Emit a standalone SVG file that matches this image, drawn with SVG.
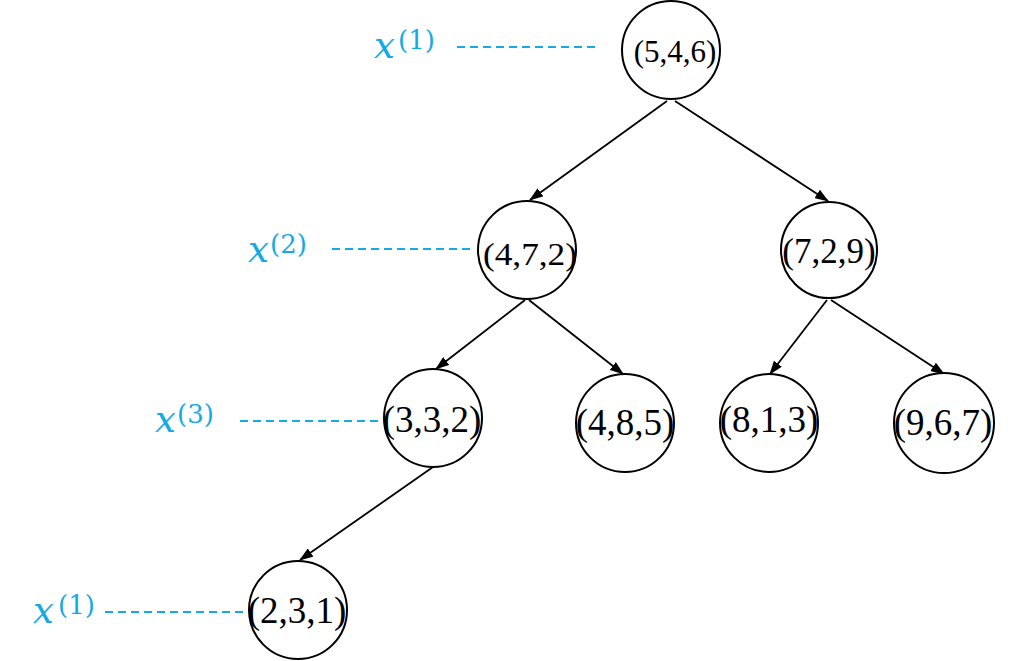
<svg xmlns="http://www.w3.org/2000/svg" width="1017" height="661" viewBox="0 0 1017 661">
<defs>
<marker id="arr" markerWidth="14" markerHeight="10" refX="13" refY="5" orient="auto" markerUnits="userSpaceOnUse">
<path d="M0,0 L14,5 L0,10 Z" fill="#000"/>
</marker>
<style>
.node circle{fill:#fff;stroke:#000;stroke-width:2}
.node text{font-family:"Liberation Serif","Times New Roman",serif;fill:#000;text-anchor:middle}
.edge{stroke:#000;stroke-width:1.8;fill:none;marker-end:url(#arr)}
.lab{font-family:"DejaVu Serif",serif;fill:#16aae4}
.lab .v{font-style:italic;font-size:37px}
.lab .s{font-size:26px}
.dash{stroke:#16aae4;stroke-width:1.8;stroke-dasharray:8 5;fill:none}
</style>
</defs>
<rect width="1017" height="661" fill="#fff"/>
<g id="labels">
<g id="label1"><text class="lab" x="374" y="58"><tspan class="v">x</tspan><tspan class="s" x="398" y="49">(1)</tspan></text><line class="dash" x1="457" y1="47" x2="598" y2="47"/></g>
<g id="label2"><text class="lab" x="248" y="262"><tspan class="v">x</tspan><tspan class="s" x="270" y="253">(2)</tspan></text><line class="dash" x1="332" y1="249" x2="473" y2="249"/></g>
<g id="label3"><text class="lab" x="155" y="432"><tspan class="v">x</tspan><tspan class="s" x="177" y="423">(3)</tspan></text><line class="dash" x1="240" y1="421" x2="381" y2="421"/></g>
<g id="label4"><text class="lab" x="33" y="623"><tspan class="v">x</tspan><tspan class="s" x="58" y="614">(1)</tspan></text><line class="dash" x1="105" y1="612" x2="246" y2="612"/></g>
</g>
<g id="connectors">
<line class="edge" x1="667" y1="101" x2="530" y2="200"/>
<line class="edge" x1="675" y1="101" x2="828" y2="201"/>
<line class="edge" x1="525" y1="300" x2="436" y2="369"/>
<line class="edge" x1="529" y1="300" x2="623" y2="374"/>
<line class="edge" x1="827" y1="300" x2="770" y2="374"/>
<line class="edge" x1="831" y1="300" x2="944" y2="374"/>
<line class="edge" x1="433" y1="467" x2="300" y2="560"/>
</g>
<g id="n546" class="node"><circle cx="671" cy="50" r="49"/><text x="675" y="62" font-size="31">(5,4,6)</text></g>
<g id="n472" class="node"><circle cx="527" cy="250" r="49"/><text x="530" y="265" font-size="31" textLength="94" lengthAdjust="spacingAndGlyphs">(4,7,2)</text></g>
<g id="n729" class="node"><circle cx="829" cy="250" r="48"/><text x="829" y="263" font-size="35">(7,2,9)</text></g>
<g id="n332" class="node"><circle cx="433" cy="418" r="49"/><text x="432" y="432" font-size="37">(3,3,2)</text></g>
<g id="n485" class="node"><circle cx="625" cy="423" r="49"/><text x="625" y="435" font-size="37">(4,8,5)</text></g>
<g id="n813" class="node"><circle cx="769" cy="423" r="49"/><text x="769" y="432" font-size="37">(8,1,3)</text></g>
<g id="n967" class="node"><circle cx="944" cy="423" r="50"/><text x="943" y="435" font-size="37">(9,6,7)</text></g>
<g id="n231" class="node"><circle cx="298" cy="610" r="49"/><text x="297" y="623" font-size="37">(2,3,1)</text></g>
</svg>
